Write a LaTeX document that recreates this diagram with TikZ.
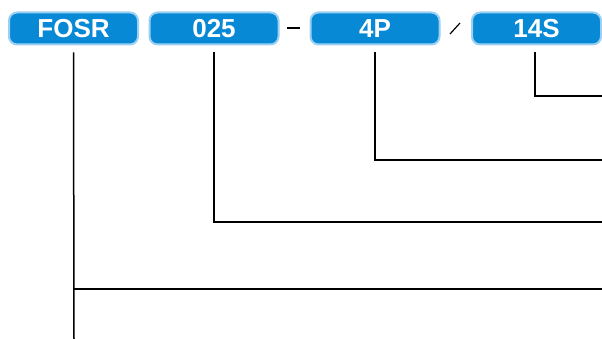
\documentclass[tikz,border=0pt]{standalone}
\usepackage{fontspec}
\setmainfont{Liberation Sans}
\definecolor{boxfill}{HTML}{0789D6}
\definecolor{boxedge}{HTML}{9BD0F2}
\begin{document}
\begin{tikzpicture}[x=1pt,y=-1pt,
  codebox/.style={draw=boxedge, line width=2pt, fill=boxfill, rounded corners=8pt,
    minimum width=129pt, minimum height=32pt, inner sep=0pt,
    text=white, font=\fontsize{26}{26}\selectfont\bfseries},
  lead/.style={line width=1.5pt, black}]
\useasboundingbox (0,0) rectangle (602,339);
\node[codebox] (f) at (73.5,28.5) {FOSR};
\node[codebox] (n) at (214,28.5) {025};
\node[codebox] (p) at (375,28.5) {4P};
\node[codebox] (s) at (536.5,28.5) {14S};
% separators
\coordinate (d1) at (287,28);
\coordinate (d2) at (300,28);
\draw[lead] (d1) -- (d2);
\coordinate (s1) at (450,34);
\coordinate (s2) at (460,23);
\draw[line width=1.2pt] (s1) -- (s2);
% leaders
\coordinate (fbot) at (74,339);
\coordinate (fj) at (74,289);
\coordinate (fe) at (602,289);
\coordinate (ne) at (602,222);
\coordinate (pe) at (602,160);
\coordinate (se) at (602,96);
\draw[lead] ([yshift=-7pt]f.south) -- (fbot);
\draw[lead] (fj) -- (fe);
\draw[lead] ([yshift=-7pt]n.south) |- (ne);
\draw[lead] ([yshift=-7pt]p.south) |- (pe);
\draw[lead] ([yshift=-7pt,xshift=-1.5pt]s.south) |- (se);
\end{tikzpicture}
\end{document}
